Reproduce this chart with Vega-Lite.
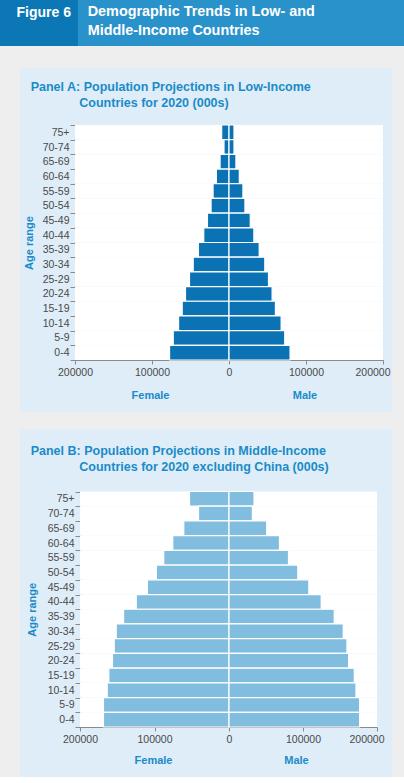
{
  "$schema": "https://vega.github.io/schema/vega-lite/v6.json",
  "background": "#eeeeee",
  "padding": 0,
  "spacing": 17,
  "config": {
    "font": "Liberation Sans",
    "view": {"stroke": null},
    "axis": {"grid": false, "domainColor": "#8a8a8a", "tickColor": "#8a8a8a", "labelColor": "#4a4a4a", "labelFontSize": 10.5, "titleColor": "#1a8bc8", "titleFontSize": 11, "titleFontWeight": "bold"}
  },
  "datasets": {
    "lowIncome": [
      {"age": "75+", "sex": "Female", "pop": 9500}, {"age": "75+", "sex": "Male", "pop": 6500},
      {"age": "70-74", "sex": "Female", "pop": 6500}, {"age": "70-74", "sex": "Male", "pop": 6500},
      {"age": "65-69", "sex": "Female", "pop": 11600}, {"age": "65-69", "sex": "Male", "pop": 9000},
      {"age": "60-64", "sex": "Female", "pop": 16400}, {"age": "60-64", "sex": "Male", "pop": 13400},
      {"age": "55-59", "sex": "Female", "pop": 20700}, {"age": "55-59", "sex": "Male", "pop": 18100},
      {"age": "50-54", "sex": "Female", "pop": 23300}, {"age": "50-54", "sex": "Male", "pop": 20700},
      {"age": "45-49", "sex": "Female", "pop": 28000}, {"age": "45-49", "sex": "Male", "pop": 27600},
      {"age": "40-44", "sex": "Female", "pop": 32800}, {"age": "40-44", "sex": "Male", "pop": 32300},
      {"age": "35-39", "sex": "Female", "pop": 39700}, {"age": "35-39", "sex": "Male", "pop": 39200},
      {"age": "30-34", "sex": "Female", "pop": 46500}, {"age": "30-34", "sex": "Male", "pop": 46500},
      {"age": "25-29", "sex": "Female", "pop": 51300}, {"age": "25-29", "sex": "Male", "pop": 51300},
      {"age": "20-24", "sex": "Female", "pop": 56500}, {"age": "20-24", "sex": "Male", "pop": 56000},
      {"age": "15-19", "sex": "Female", "pop": 60800}, {"age": "15-19", "sex": "Male", "pop": 60300},
      {"age": "10-14", "sex": "Female", "pop": 65500}, {"age": "10-14", "sex": "Male", "pop": 67700},
      {"age": "5-9", "sex": "Female", "pop": 72400}, {"age": "5-9", "sex": "Male", "pop": 72400},
      {"age": "0-4", "sex": "Female", "pop": 77200}, {"age": "0-4", "sex": "Male", "pop": 79300}
    ],
    "middleIncome": [
      {"age": "75+", "sex": "Female", "pop": 53000}, {"age": "75+", "sex": "Male", "pop": 33800},
      {"age": "70-74", "sex": "Female", "pop": 40900}, {"age": "70-74", "sex": "Male", "pop": 31600},
      {"age": "65-69", "sex": "Female", "pop": 60700}, {"age": "65-69", "sex": "Male", "pop": 51000},
      {"age": "60-64", "sex": "Female", "pop": 75500}, {"age": "60-64", "sex": "Male", "pop": 68200},
      {"age": "55-59", "sex": "Female", "pop": 87600}, {"age": "55-59", "sex": "Male", "pop": 80400},
      {"age": "50-54", "sex": "Female", "pop": 97500}, {"age": "50-54", "sex": "Male", "pop": 93000},
      {"age": "45-49", "sex": "Female", "pop": 109600}, {"age": "45-49", "sex": "Male", "pop": 107900},
      {"age": "40-44", "sex": "Female", "pop": 124500}, {"age": "40-44", "sex": "Male", "pop": 124600},
      {"age": "35-39", "sex": "Female", "pop": 141500}, {"age": "35-39", "sex": "Male", "pop": 142200},
      {"age": "30-34", "sex": "Female", "pop": 151400}, {"age": "30-34", "sex": "Male", "pop": 154400},
      {"age": "25-29", "sex": "Female", "pop": 154100}, {"age": "25-29", "sex": "Male", "pop": 159400},
      {"age": "20-24", "sex": "Female", "pop": 156400}, {"age": "20-24", "sex": "Male", "pop": 161600},
      {"age": "15-19", "sex": "Female", "pop": 161300}, {"age": "15-19", "sex": "Male", "pop": 169300},
      {"age": "10-14", "sex": "Female", "pop": 163500}, {"age": "10-14", "sex": "Male", "pop": 171600},
      {"age": "5-9", "sex": "Female", "pop": 168500}, {"age": "5-9", "sex": "Male", "pop": 176500},
      {"age": "0-4", "sex": "Female", "pop": 168500}, {"age": "0-4", "sex": "Male", "pop": 176500}
    ]
  },
  "vconcat": [
    {
      "spacing": 0,
      "hconcat": [
        {
          "width": 78, "height": 46,
          "view": {"fill": "#0b78b5", "stroke": null},
          "data": {"values": [{}]},
          "mark": {"type": "point", "opacity": 0},
          "title": {"text": "Figure 6", "anchor": "start", "frame": "group", "baseline": "top", "offset": -20.2, "dx": 16.5, "fontSize": 14, "fontWeight": "bold", "color": "#ffffff"}
        },
        {
          "width": 326, "height": 46,
          "view": {"fill": "#2a92ca", "stroke": null},
          "data": {"values": [{}]},
          "mark": {"type": "point", "opacity": 0},
          "title": {"text": ["Demographic Trends in Low- and", "Middle-Income Countries"], "anchor": "start", "frame": "group", "baseline": "top", "offset": -38, "dx": 9.7, "lineHeight": 19, "fontSize": 14.4, "fontWeight": "bold", "color": "#ffffff"}
        }
      ]
    },
    {
      "spacing": 0,
      "hconcat": [
        {
          "width": 20, "height": 10,
          "data": {"values": [{}]},
          "mark": {"type": "point", "opacity": 0}
        },
        {
          "spacing": 12,
          "vconcat": [
            {
              "width": 372, "height": 344,
              "view": {"fill": "#deedf7", "stroke": null},
              "title": {"text": ["Panel A: Population Projections in Low-Income", "\u200b\u00a0\u00a0\u00a0\u00a0\u00a0\u00a0\u00a0\u00a0\u00a0\u00a0\u00a0\u00a0\u00a0\u00a0Countries for 2020 (000s)"], "anchor": "start", "frame": "group", "baseline": "top", "offset": -46, "dx": 10.7, "lineHeight": 16, "fontSize": 12.5, "fontWeight": "bold", "color": "#1a8bc8"},
              "data": {"name": "lowIncome"},
              "encoding": {
                "y": {
                  "field": "age", "type": "nominal",
                  "sort": ["75+", "70-74", "65-69", "60-64", "55-59", "50-54", "45-49", "40-44", "35-39", "30-34", "25-29", "20-24", "15-19", "10-14", "5-9", "0-4"],
                  "scale": {"range": [57, 292], "paddingInner": 0, "paddingOuter": 0},
                  "axis": {"title": "Age range", "orient": "left", "offset": -55, "tickBand": "extent", "tickSize": 5, "labelPadding": 1, "titlePadding": 8}
                }
              },
              "layer": [
                {
                  "transform": [{"filter": "datum.sex === 'Female'"}],
                  "layer": [
                    {
                      "mark": {"type": "bar", "color": "#ffffff"},
                      "encoding": {"x": {"datum": 200000, "type": "quantitative", "scale": {"domain": [0, 200000], "range": [209, 55], "nice": false},
                        "axis": {"orient": "bottom", "offset": -52, "values": [0, 100000, 200000], "format": "d", "labelFlush": false, "tickSize": 4, "labelPadding": 3, "title": "Female", "titlePadding": 12, "titleX": 130}}}
                    },
                    {
                      "mark": {"type": "bar", "color": "#0b72b4", "stroke": "#ffffff", "strokeWidth": 1.2},
                      "encoding": {"x": {"field": "pop", "type": "quantitative", "scale": {"domain": [0, 200000], "range": [209, 55], "nice": false},
                        "axis": {"orient": "bottom", "offset": -52, "values": [0, 100000, 200000], "format": "d", "labelFlush": false, "tickSize": 4, "labelPadding": 3, "title": "Female", "titlePadding": 12, "titleX": 130}}}
                    }
                  ]
                },
                {
                  "transform": [{"filter": "datum.sex === 'Male'"}],
                  "layer": [
                    {
                      "mark": {"type": "bar", "color": "#ffffff"},
                      "encoding": {"x": {"datum": 200000, "type": "quantitative", "scale": {"domain": [0, 200000], "range": [209, 363], "nice": false},
                        "axis": {"orient": "bottom", "offset": -52, "values": [100000, 200000], "format": "d", "labelFlush": 3, "labelFlushOffset": 7, "tickSize": 4, "labelPadding": 3, "title": "Male", "titlePadding": 12, "titleX": 284.5}}}
                    },
                    {
                      "mark": {"type": "bar", "color": "#0b72b4", "stroke": "#ffffff", "strokeWidth": 1.2},
                      "encoding": {"x": {"field": "pop", "type": "quantitative", "scale": {"domain": [0, 200000], "range": [209, 363], "nice": false},
                        "axis": {"orient": "bottom", "offset": -52, "values": [100000, 200000], "format": "d", "labelFlush": 3, "labelFlushOffset": 7, "tickSize": 4, "labelPadding": 3, "title": "Male", "titlePadding": 12, "titleX": 284.5}}}
                    }
                  ]
                }
              ],
              "resolve": {"scale": {"x": "independent"}, "axis": {"x": "independent"}}
            },
            {
              "width": 372, "height": 348,
              "view": {"fill": "#deedf7", "stroke": null},
              "title": {"text": ["Panel B: Population Projections in Middle-Income", "\u200b\u00a0\u00a0\u00a0\u00a0\u00a0\u00a0\u00a0\u00a0\u00a0\u00a0\u00a0\u00a0\u00a0\u00a0Countries for 2020 excluding China (000s)"], "anchor": "start", "frame": "group", "baseline": "top", "offset": -49.9, "dx": 10.7, "lineHeight": 16, "fontSize": 12.5, "fontWeight": "bold", "color": "#1a8bc8"},
              "data": {"name": "middleIncome"},
              "encoding": {
                "y": {
                  "field": "age", "type": "nominal",
                  "sort": ["75+", "70-74", "65-69", "60-64", "55-59", "50-54", "45-49", "40-44", "35-39", "30-34", "25-29", "20-24", "15-19", "10-14", "5-9", "0-4"],
                  "scale": {"range": [62.5, 298], "paddingInner": 0, "paddingOuter": 0},
                  "axis": {"title": "Age range", "orient": "left", "offset": -60, "tickBand": "extent", "tickSize": 5, "labelPadding": 1, "titlePadding": 9.5}
                }
              },
              "layer": [
                {
                  "transform": [{"filter": "datum.sex === 'Female'"}],
                  "layer": [
                    {
                      "mark": {"type": "bar", "color": "#ffffff"},
                      "encoding": {"x": {"datum": 200000, "type": "quantitative", "scale": {"domain": [0, 200000], "range": [209, 60], "nice": false},
                        "axis": {"orient": "bottom", "offset": -50, "values": [0, 100000, 200000], "format": "d", "labelFlush": false, "tickSize": 4, "labelPadding": 3, "title": "Female", "titlePadding": 10, "titleX": 133}}}
                    },
                    {
                      "mark": {"type": "bar", "color": "#80bddf", "stroke": "#ffffff", "strokeWidth": 1.2},
                      "encoding": {"x": {"field": "pop", "type": "quantitative", "scale": {"domain": [0, 200000], "range": [209, 60], "nice": false},
                        "axis": {"orient": "bottom", "offset": -50, "values": [0, 100000, 200000], "format": "d", "labelFlush": false, "tickSize": 4, "labelPadding": 3, "title": "Female", "titlePadding": 10, "titleX": 133}}}
                    }
                  ]
                },
                {
                  "transform": [{"filter": "datum.sex === 'Male'"}],
                  "layer": [
                    {
                      "mark": {"type": "bar", "color": "#ffffff"},
                      "encoding": {"x": {"datum": 200000, "type": "quantitative", "scale": {"domain": [0, 200000], "range": [209, 357], "nice": false},
                        "axis": {"orient": "bottom", "offset": -50, "values": [100000, 200000], "format": "d", "labelFlush": 3, "labelFlushOffset": 7, "tickSize": 4, "labelPadding": 3, "title": "Male", "titlePadding": 10, "titleX": 276}}}
                    },
                    {
                      "mark": {"type": "bar", "color": "#80bddf", "stroke": "#ffffff", "strokeWidth": 1.2},
                      "encoding": {"x": {"field": "pop", "type": "quantitative", "scale": {"domain": [0, 200000], "range": [209, 357], "nice": false},
                        "axis": {"orient": "bottom", "offset": -50, "values": [100000, 200000], "format": "d", "labelFlush": 3, "labelFlushOffset": 7, "tickSize": 4, "labelPadding": 3, "title": "Male", "titlePadding": 10, "titleX": 276}}}
                    }
                  ]
                }
              ],
              "resolve": {"scale": {"x": "independent"}, "axis": {"x": "independent"}}
            }
          ]
        }
      ]
    }
  ]
}
